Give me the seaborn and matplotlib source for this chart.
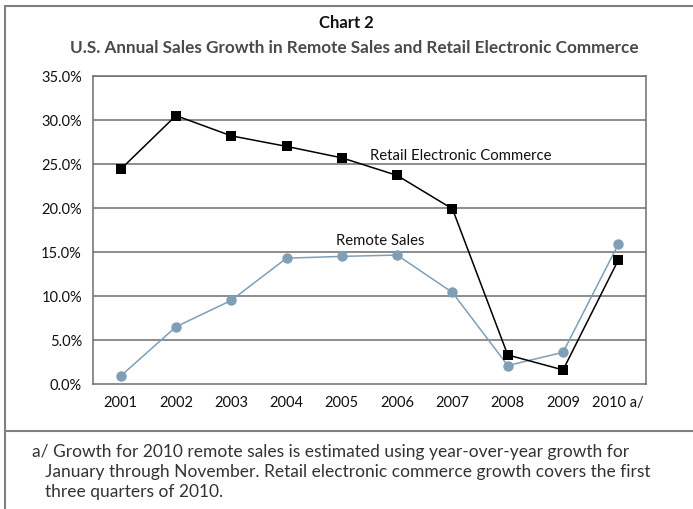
import matplotlib
matplotlib.use("Agg")
import matplotlib.pyplot as plt
from matplotlib.lines import Line2D
from matplotlib.ticker import FuncFormatter, FixedLocator, MultipleLocator
import seaborn as sns
import pandas as pd

years = ["2001", "2002", "2003", "2004", "2005", "2006", "2007", "2008", "2009", "2010 a/"]
retail_ecommerce = [24.4, 30.5, 28.2, 27.0, 25.7, 23.7, 19.9, 3.3, 1.6, 14.1]
remote_sales = [0.9, 6.5, 9.5, 14.3, 14.5, 14.65, 10.4, 2.1, 3.6, 15.9]

title = "Chart 2"
subtitle = "U.S. Annual Sales Growth in Remote Sales and Retail Electronic Commerce"
footnote = ["a/ Growth for 2010 remote sales is estimated using year-over-year growth for",
            "January through November. Retail electronic commerce growth covers the first",
            "three quarters of 2010."]

sns.set_style("white")
FONT = ["Lato", "DejaVu Sans"]
plt.rcParams["font.family"] = FONT

df = pd.DataFrame({"year": years, "Retail": retail_ecommerce, "Remote": remote_sales})

fig = plt.figure(figsize=(6.93, 5.10), dpi=100)
ax = fig.add_axes([93 / 693, 1 - 385 / 510, 553 / 693, 308 / 510])

grid_c = "#6e6e6e"
for v in range(5, 40, 5):
    ax.axhline(v, color=grid_c, lw=1.1, zorder=0)

sns.lineplot(data=df, x="year", y="Remote", ax=ax, color="#7f9fb6", lw=1.1,
             marker="o", markersize=7.5, markeredgewidth=0, sort=False, zorder=3)
sns.lineplot(data=df, x="year", y="Retail", ax=ax, color="black", lw=1.1,
             marker="s", markersize=7, markeredgewidth=0, sort=False, zorder=4)

ax.set_xlim(-0.5, len(years) - 0.5)
ax.set_ylim(0, 35)
ax.yaxis.set_major_locator(MultipleLocator(5))
ax.yaxis.set_major_formatter(FuncFormatter(lambda v, p: f"{v:.1f}%"))
ax.set_xticks(range(len(years)))
ax.set_xticklabels(years)
ax.xaxis.set_minor_locator(FixedLocator([i - 0.5 for i in range(len(years) + 1)]))
ax.tick_params(axis="x", which="major", length=0, pad=8, labelsize=10.5, colors="#111111")
ax.tick_params(axis="x", which="minor", length=5, width=1, color=grid_c, direction="out")
ax.tick_params(axis="y", which="major", length=5, width=1, color=grid_c, direction="out",
               labelsize=10.5, labelcolor="#111111", pad=3)
ax.set_xlabel("")
ax.set_ylabel("")
for s in ax.spines.values():
    s.set_color(grid_c)
    s.set_linewidth(1.1)

ax.text(4.5, 26.0, "Retail Electronic Commerce", fontsize=10.7, color="#111111",
        ha="left", va="center")
ax.text(3.9, 16.4, "Remote Sales", fontsize=10.7, color="#111111",
        ha="left", va="center")

fig.text(346 / 693, 1 - 23 / 510, title, ha="center", va="center", fontsize=12,
         fontweight="bold", color="#111111")
fig.text(354 / 693, 1 - 48 / 510, subtitle, ha="center", va="center", fontsize=12.3,
         fontweight="bold", color="#4a4a4a")

foot_x = [32, 45, 45]
for i, line in enumerate(footnote):
    fig.text(foot_x[i] / 693, 1 - (452 + i * 20) / 510, line, ha="left", va="center",
             fontsize=12.5, color="#333333")

border_c = "#808080"
fig.add_artist(Line2D([5 / 693, 5 / 693], [0, 1 - 7 / 510], transform=fig.transFigure,
                      color=border_c, lw=1.5))
fig.add_artist(Line2D([5 / 693, 1], [1 - 7 / 510, 1 - 7 / 510], transform=fig.transFigure,
                      color=border_c, lw=1.5))
fig.add_artist(Line2D([5 / 693, 1], [1 - 432 / 510, 1 - 432 / 510], transform=fig.transFigure,
                      color=border_c, lw=1.5))

fig.savefig("out.png", dpi=100)
